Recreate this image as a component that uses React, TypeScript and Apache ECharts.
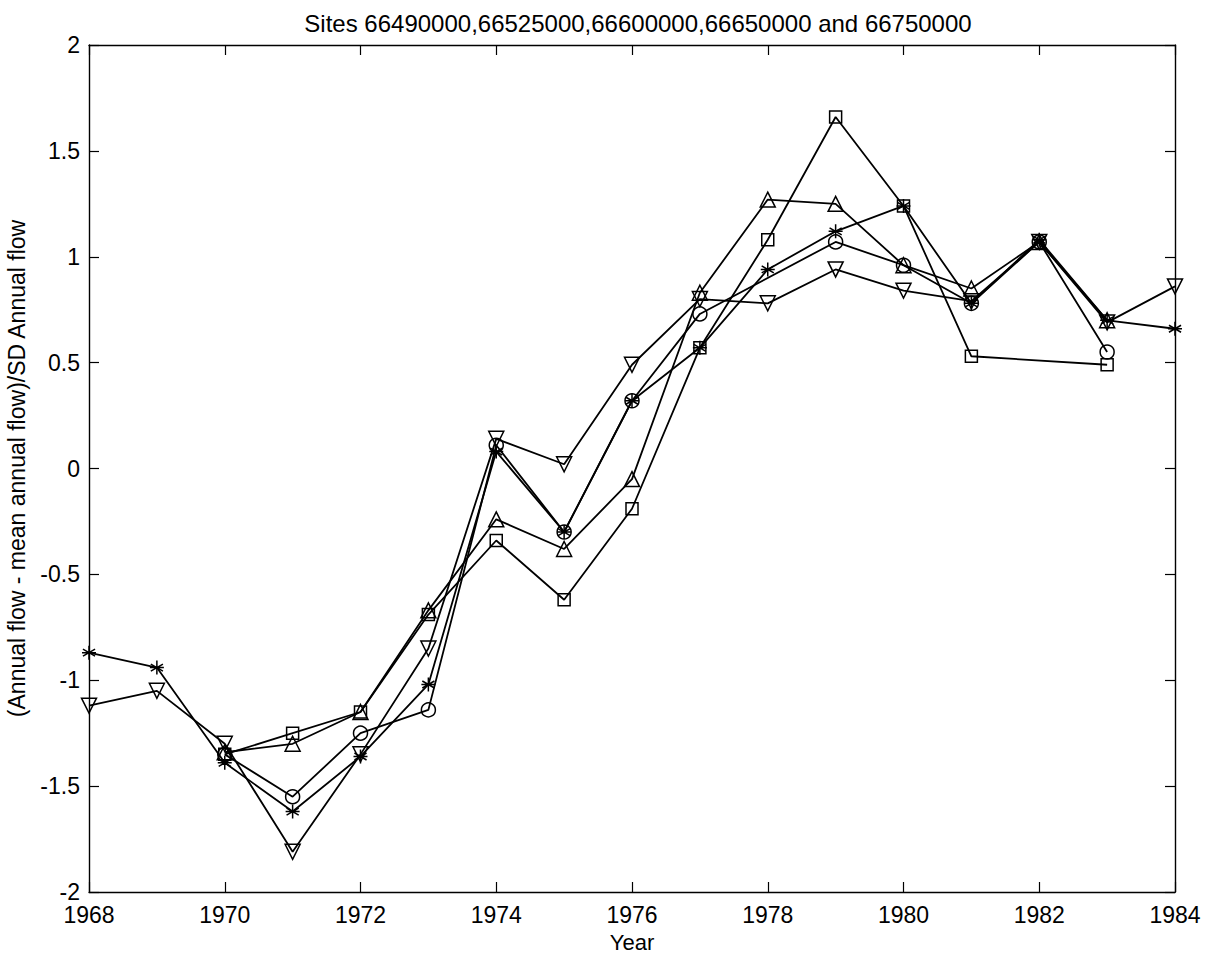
import React, { useEffect, useRef } from "react";
import * as echarts from "echarts";

const years = [1968, 1969, 1970, 1971, 1972, 1973, 1974, 1975, 1976, 1977, 1978, 1979, 1980, 1981, 1982, 1983, 1984];
const starValues = [-0.87, -0.94, -1.39, -1.62, -1.36, -1.02, 0.08, -0.30, 0.32, 0.57, 0.94, 1.12, 1.24, 0.78, 1.08, 0.70, 0.66];
const triDownValues = [-1.12, -1.05, -1.30, -1.81, -1.35, -0.85, 0.14, 0.02, 0.49, 0.80, 0.78, 0.94, 0.84, 0.79, 1.07, 0.69, 0.86];
const circleValues = [null, null, -1.35, -1.55, -1.25, -1.14, 0.11, -0.30, 0.32, 0.73, null, 1.07, 0.96, 0.78, 1.07, 0.55, null];
const squareValues = [null, null, -1.35, -1.25, -1.15, -0.69, -0.34, -0.62, -0.19, 0.57, 1.08, 1.66, 1.24, 0.53, null, 0.49, null];
const triUpValues = [null, null, -1.34, -1.30, -1.15, -0.67, -0.24, -0.38, -0.05, 0.83, 1.27, 1.25, 0.96, 0.85, 1.07, 0.70, null];

const titleText = "Sites 66490000,66525000,66600000,66650000 and 66750000";
const xName = "Year";
const yName = "(Annual flow - mean annual flow)/SD Annual flow";

const FONT = "'Liberation Sans', Arial, Helvetica, sans-serif";

function pairs(vals: (number | null)[]) {
  const out: [number, number][] = [];
  vals.forEach((v, i) => {
    if (v !== null && v !== undefined) out.push([years[i], v]);
  });
  return out;
}

const STAR = "path://M5,0L5,10M0.67,2.5L9.33,7.5M9.33,2.5L0.67,7.5M0,5L10,5";
const TRI_DOWN = "path://M0,0L10,0L5,8.66Z";

export default function App() {
  const ref = useRef<HTMLDivElement>(null);
  useEffect(() => {
    if (!ref.current) return;
    const chart = echarts.init(ref.current, null, { renderer: "svg" });
    const mk = (name: string, vals: (number | null)[], symbol: string, size: number) => ({
      name,
      type: "line",
      data: pairs(vals),
      symbol,
      symbolSize: size,
      showAllSymbol: true,
      lineStyle: { color: "#000", width: 1.8 },
      itemStyle: { color: "none", borderColor: "#000", borderWidth: 1.5 },
      emphasis: { disabled: true },
      z: 3,
    });
    const tickStyle = { show: true, inside: true, length: 10, lineStyle: { color: "#000", width: 1.2 } };
    const axisLineStyle = { show: true, onZero: false, lineStyle: { color: "#000", width: 1.4 } };
    chart.setOption({
      animation: false,
      backgroundColor: "#fff",
      title: {
        text: titleText,
        left: 633,
        textAlign: "center",
        top: 6,
        textStyle: { fontFamily: FONT, fontSize: 24, fontWeight: "normal", color: "#000" },
      },
      graphic: [
        {
          type: "text",
          x: 632,
          y: 942,
          style: {
            text: xName,
            fill: "#000",
            font: "22px 'Liberation Sans', Arial, Helvetica, sans-serif",
            textAlign: "center",
            textVerticalAlign: "middle",
          },
        },
      ],
      grid: { left: 89, right: 39, top: 45, bottom: 62, containLabel: false, outerBoundsMode: "none" },
      xAxis: [
        {
          type: "value",
          min: 1968,
          max: 1984,
          interval: 2,
          position: "bottom",
          axisLine: axisLineStyle,
          axisTick: tickStyle,
          axisLabel: {
            fontFamily: FONT,
            fontSize: 23,
            lineHeight: 23,
            color: "#000",
            margin: 11,
            formatter: (v: number) => String(v),
          },
          splitLine: { show: false },
        },
        {
          type: "value",
          min: 1968,
          max: 1984,
          interval: 2,
          position: "top",
          axisLine: axisLineStyle,
          axisTick: tickStyle,
          axisLabel: { show: false },
          splitLine: { show: false },
        },
      ],
      yAxis: [
        {
          type: "value",
          min: -2,
          max: 2,
          interval: 0.5,
          position: "left",
          name: yName,
          nameLocation: "middle",
          nameGap: 61,
          nameTextStyle: { fontFamily: FONT, fontSize: 23, color: "#000" },
          axisLine: axisLineStyle,
          axisTick: tickStyle,
          axisLabel: { fontFamily: FONT, fontSize: 23, color: "#000", margin: 9 },
          splitLine: { show: false },
        },
        {
          type: "value",
          min: -2,
          max: 2,
          interval: 0.5,
          position: "right",
          axisLine: axisLineStyle,
          axisTick: tickStyle,
          axisLabel: { show: false },
          splitLine: { show: false },
        },
      ],
      series: [
        mk("star", starValues, STAR, 14),
        mk("triDown", triDownValues, TRI_DOWN, 15),
        mk("circle", circleValues, "circle", 14),
        mk("square", squareValues, "rect", 12),
        mk("triUp", triUpValues, "triangle", 15),
      ],
    });
    return () => chart.dispose();
  }, []);
  return (
    <div
      ref={ref}
      style={{ position: "fixed", left: 0, top: 0, width: 1214, height: 954, background: "#fff" }}
    />
  );
}
